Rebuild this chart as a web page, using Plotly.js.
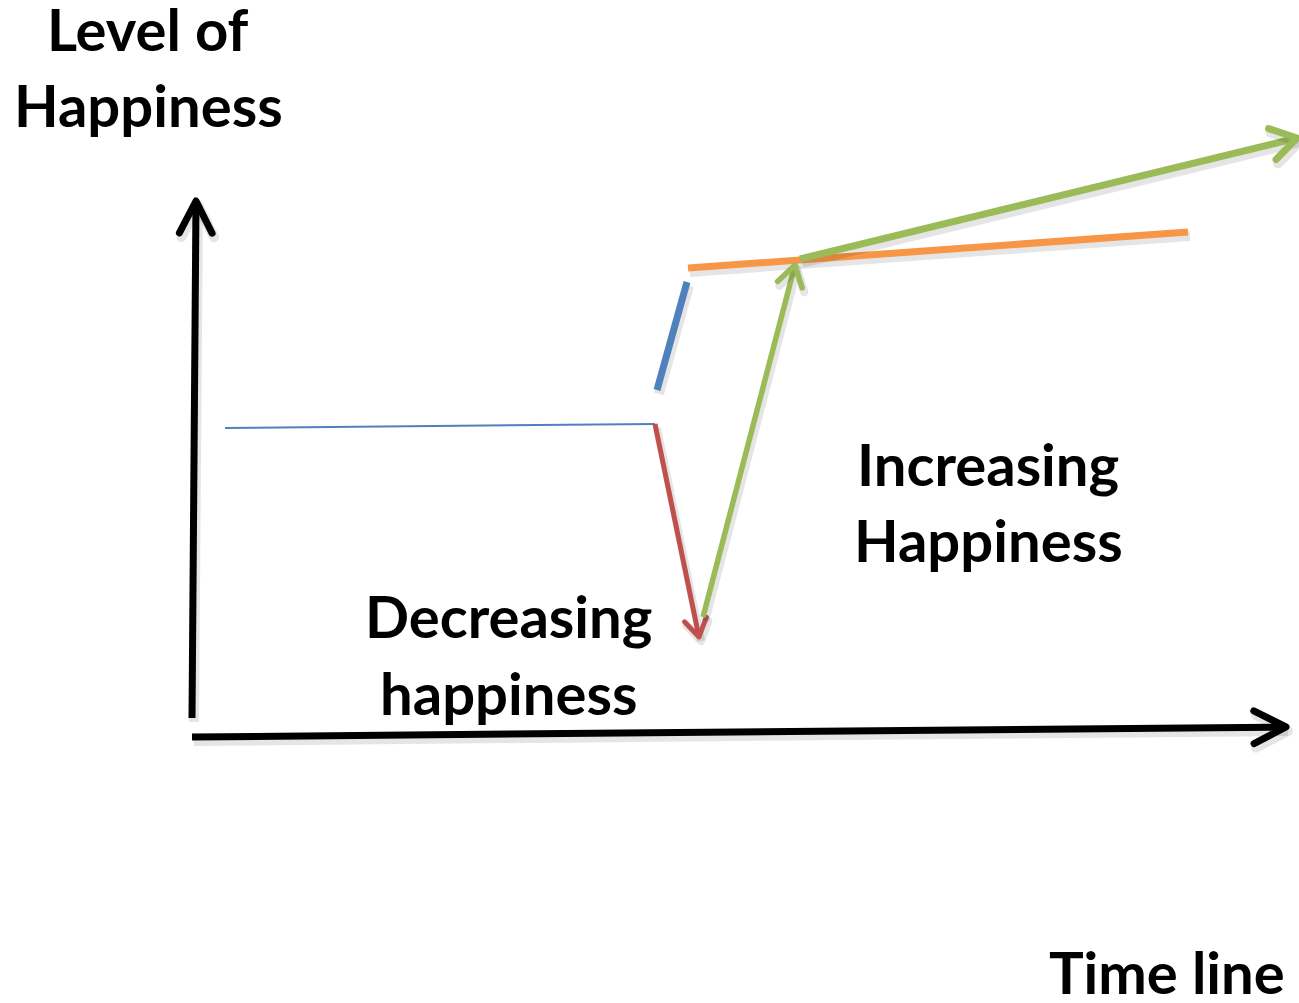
<!DOCTYPE html>
<html>
<head>
<meta charset="utf-8">
<script src="https://cdn.plot.ly/plotly-3.0.1.min.js"></script>
<style>
html,body{margin:0;padding:0;background:#fff;}
#chart{width:1299px;height:1003px;}
</style>
</head>
<body>
<div id="chart"></div>
<script>
// ---- data (drawing units: x to the right, y downward) ----
const yAxisX = [192, 196];
const yAxisY = [718, 201];
const xAxisX = [192, 1286];
const xAxisY = [737, 727];
const baselineX = [225, 655];
const baselineY = [428, 424];
const jumpX = [657, 687];
const jumpY = [390, 282];
const plateauX = [688, 1188];
const plateauY = [268, 232];
const dropX = [655, 699];
const dropY = [424, 637];
const riseX = [703, 795];
const riseY = [617, 265];
const growthX = [800, 1297];
const growthY = [259, 138];
const labelTexts = ["Level of", "Happiness", "Decreasing", "happiness", "Increasing", "Happiness", "Time line"];

// ---- styles ----
const BLACK = "#000000", BLUE = "#4F81BD", ORANGE = "#F79646", RED = "#C0504D", GREEN = "#9BBB59";

function head(xs, ys, len, angDeg) {
  const n = xs.length;
  const tx = xs[n-1], ty = ys[n-1];
  const dx = tx - xs[n-2], dy = ty - ys[n-2];
  const d = Math.hypot(dx, dy);
  const ux = dx / d, uy = dy / d;
  const a = angDeg * Math.PI / 180;
  const r = (s) => {
    const c = Math.cos(s * a), sn = Math.sin(s * a);
    return [ux * c - uy * sn, ux * sn + uy * c];
  };
  const p = r(1), q = r(-1);
  return {x: [tx - len * p[0], tx, tx - len * q[0]], y: [ty - len * p[1], ty, ty - len * q[1]]};
}

const traces = [];
const rounds = [];
function addLine(x, y, color, width, round, shadow) {
  if (shadow) {
    traces.push({x: x.map(v => v + 2), y: y.map(v => v + 4), mode: "lines", hoverinfo: "skip",
      line: {color: "rgba(0,0,0,0.10)", width: width + 3}});
    rounds.push(round);
  }
  traces.push({x: x, y: y, mode: "lines", hoverinfo: "skip", line: {color: color, width: width}});
  rounds.push(round);
}

addLine(yAxisX, yAxisY, BLACK, 7, false, true);
const hy = head(yAxisX, yAxisY, 36, 27);
addLine(hy.x, hy.y, BLACK, 7, true, true);
addLine(xAxisX, xAxisY, BLACK, 7, false, true);
const hx = head(xAxisX, xAxisY, 36, 27);
addLine(hx.x, hx.y, BLACK, 7, true, true);

addLine(baselineX, baselineY, BLUE, 2, false, false);
addLine(jumpX, jumpY, BLUE, 7, false, true);
addLine(plateauX, plateauY, ORANGE, 7, false, true);

addLine(dropX, dropY, RED, 5, false, true);
const hd = head(dropX, dropY, 21, 32);
addLine(hd.x, hd.y, RED, 5, true, true);

addLine(riseX, riseY, GREEN, 5.5, false, true);
const hr = head(riseX, riseY, 24, 32);
addLine(hr.x, hr.y, GREEN, 5.5, true, true);

addLine(growthX, growthY, GREEN, 7, false, true);
const hg = head(growthX, growthY, 30, 32);
addLine(hg.x, hg.y, GREEN, 7, true, true);

const labelPos = [[148, 28], [148, 104], [508, 615], [508, 692], [988, 463], [988, 539], [1167, 971]];
const FONT = {family: "Lato, 'Open Sans', sans-serif", size: 58, color: "#000", weight: 700};
const annotations = labelTexts.map((t, i) => ({
  x: labelPos[i][0], y: labelPos[i][1], xref: "x", yref: "y",
  text: "<b>" + t + "</b>", showarrow: false, xanchor: "center", yanchor: "middle",
  font: FONT
}));

const layout = {
  width: 1299, height: 1003,
  margin: {l: 0, r: 0, t: 0, b: 0, pad: 0},
  paper_bgcolor: "#fff", plot_bgcolor: "#fff",
  showlegend: false,
  xaxis: {range: [0, 1299], visible: false, fixedrange: true},
  yaxis: {range: [1003, 0], visible: false, fixedrange: true},
  annotations: annotations
};

Plotly.newPlot("chart", traces, layout, {staticPlot: true, displayModeBar: false}).then(() => {
  const groups = document.querySelectorAll(".scatterlayer .trace");
  groups.forEach((g, i) => {
    g.querySelectorAll("path").forEach(p => {
      p.style.strokeLinecap = rounds[i] ? "round" : "butt";
      p.style.strokeLinejoin = "round";
    });
  });
});
</script>
</body>
</html>
